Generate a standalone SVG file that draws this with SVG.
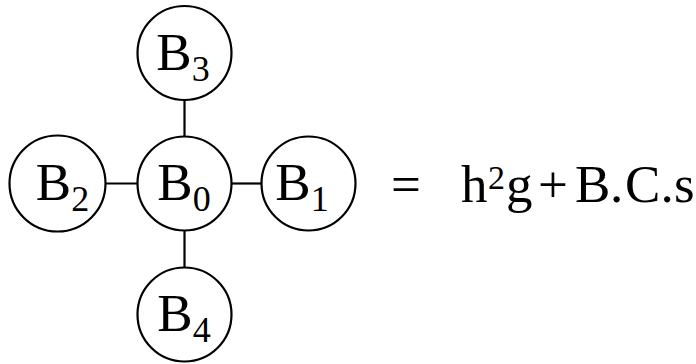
<svg xmlns="http://www.w3.org/2000/svg" width="696" height="364" viewBox="0 0 696 364">
<style>
.n{fill:#fff;stroke:#000;stroke-width:2.2}
.c{stroke:#000;stroke-width:2.2;fill:none}
text{font-family:"Liberation Serif","Times New Roman",serif;font-size:53px;fill:#000}
.l{text-anchor:middle}
.s{font-size:36px}
.p{font-size:34px}
</style>
<rect width="696" height="364" fill="#fff"/>
<g id="connectors">
<line class="c" x1="184.5" y1="100" x2="184.5" y2="137"/>
<line class="c" x1="105.5" y1="183.5" x2="137.5" y2="183.5"/>
<line class="c" x1="231.5" y1="183.5" x2="261.5" y2="183.5"/>
<line class="c" x1="184.5" y1="230.5" x2="184.5" y2="267.5"/>
</g>
<g id="B0"><circle class="n" cx="184.5" cy="183.5" r="47"/><text class="l" x="184" y="200">B<tspan class="s" dy="11">0</tspan></text></g>
<g id="B3"><circle class="n" cx="184.5" cy="53" r="47"/><text class="l" x="183" y="69.5">B<tspan class="s" dy="11">3</tspan></text></g>
<g id="B2"><circle class="n" cx="57.5" cy="183.5" r="48"/><text class="l" x="62.5" y="200">B<tspan class="s" dy="11">2</tspan></text></g>
<g id="B1"><circle class="n" cx="308.5" cy="183.5" r="47"/><text class="l" x="302" y="200">B<tspan class="s" dy="11">1</tspan></text></g>
<g id="B4"><circle class="n" cx="184.5" cy="314.5" r="47"/><text class="l" x="184" y="331">B<tspan class="s" dy="11">4</tspan></text></g>
<g id="equation"><text y="202"><tspan x="391">=</tspan><tspan x="461">h</tspan><tspan class="p" x="488" y="189">2</tspan><tspan x="506" y="202">g</tspan><tspan x="538">+</tspan><tspan x="575">B</tspan><tspan x="610">.</tspan><tspan x="625">C</tspan><tspan x="660.5">.</tspan><tspan x="674">s</tspan></text></g>
</svg>
